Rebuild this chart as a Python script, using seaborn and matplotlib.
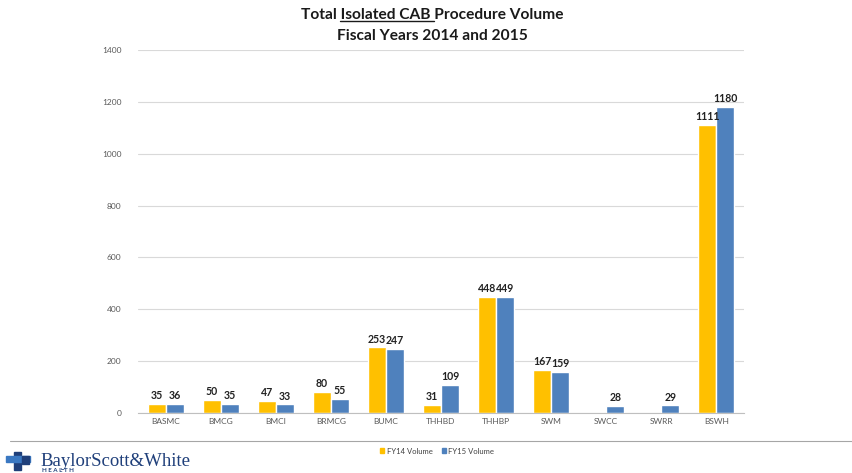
import numpy as np
import pandas as pd
import matplotlib
matplotlib.use("Agg")
import matplotlib.pyplot as plt
import matplotlib.patches as mpatches
from matplotlib.lines import Line2D
import seaborn as sns

categories = ["BASMC", "BMCG", "BMCI", "BRMCG", "BUMC", "THHBD", "THHBP", "SWM", "SWCC", "SWRR", "BSWH"]
fy14 = [35, 50, 47, 80, 253, 31, 448, 167, np.nan, np.nan, 1111]
fy15 = [36, 35, 33, 55, 247, 109, 449, 159, 28, 29, 1180]
series_names = ["FY14 Volume", "FY15 Volume"]
yticks = [0, 200, 400, 600, 800, 1000, 1200, 1400]

df = pd.DataFrame({
    "Hospital": categories * 2,
    "Series": [series_names[0]] * len(categories) + [series_names[1]] * len(categories),
    "Volume": fy14 + fy15,
})

sns.set_theme(style="white")
plt.rcParams["font.family"] = ["Lato", "DejaVu Sans"]

fig = plt.figure(figsize=(8.53, 4.73), dpi=100)
ax = fig.add_axes([0.162, 0.127, 0.710, 0.767])

palette = {series_names[0]: "#FFC000", series_names[1]: "#4F81BD"}
sns.barplot(data=df, x="Hospital", y="Volume", hue="Series", order=categories,
            hue_order=series_names, palette=palette, width=0.66, ax=ax,
            saturation=1, legend=False)

for cont in ax.containers:
    ax.bar_label(cont, fmt="%.0f", padding=2, fontsize=7.6, fontweight="bold", color="#222222")

ax.set_ylim(0, 1400)
ax.set_xlim(-0.5, len(categories) - 0.5)
ax.set_yticks(yticks)
ax.set_yticklabels([str(v) for v in yticks])
ax.yaxis.grid(True, color="#d9d9d9", linewidth=0.8)
ax.set_axisbelow(True)
ax.set_xlabel("")
ax.set_ylabel("")
for s in ["top", "right", "left"]:
    ax.spines[s].set_visible(False)
ax.spines["bottom"].set_color("#bfbfbf")
ax.spines["bottom"].set_linewidth(0.8)
ax.tick_params(axis="y", length=0, labelsize=6, labelcolor="#595959", pad=12)
ax.tick_params(axis="x", which="major", length=0, labelsize=6, labelcolor="#595959", pad=4)
ax.set_xticks(np.arange(-0.5, len(categories), 1.0), minor=True)
ax.tick_params(axis="x", which="minor", length=4, color="#bfbfbf", width=0.8)

# Title with underlined part
fig.canvas.draw()
renderer = fig.canvas.get_renderer()
tkw = dict(fontsize=11.2, fontweight="bold", color="#1a1a1a", ha="center", va="baseline")
cx = 432 / 853
y1 = 1 - 19 / 473
y2 = 1 - 40 / 473
line1 = "Total Isolated CAB Procedure Volume"
fig.text(cx, y1, line1, **tkw)
fig.text(cx, y2, "Fiscal Years 2014 and 2015", **tkw)

def width_of(s):
    t = fig.text(0, 0, s, **tkw)
    w = t.get_window_extent(renderer).width
    t.remove()
    return w

W = width_of(line1)
wx = width_of("X")
a = width_of("Total X") - wx
b = width_of("Total Isolated CAB X") - wx
x_left_px = cx * fig.bbox.width - W / 2
fig.add_artist(Line2D([(x_left_px + a) / fig.bbox.width, (x_left_px + b) / fig.bbox.width],
                      [y1 - 2.5 / 473, y1 - 2.5 / 473], color="#1a1a1a", linewidth=1.0))

# Legend
handles = [mpatches.Patch(color=palette[n], label=n) for n in series_names]
fig.legend(handles=handles, loc="center", bbox_to_anchor=(437 / 853, 1 - 451 / 473),
           ncol=2, frameon=False, fontsize=5.5, handlelength=0.6, handleheight=0.6,
           handletextpad=0.3, columnspacing=1.2, labelcolor="#404040")

# Footer rule
fig.add_artist(Line2D([10 / 853, 1.0], [1 - 441 / 473, 1 - 441 / 473], color="#a6a6a6", linewidth=0.8))

# Logo
navy = "#1F3F7A"
fig.add_artist(mpatches.Rectangle((14 / 853, 1 - 470 / 473), 7 / 853, 18 / 473, color=navy))
fig.add_artist(mpatches.Rectangle((6 / 853, 1 - 462 / 473), 24 / 853, 6 / 473, color="#3A78C2"))
fig.add_artist(mpatches.Rectangle((22 / 853, 1 - 464 / 473), 7 / 853, 8 / 473, color=navy))
fig.text(40 / 853, 1 - 461 / 473, "BaylorScott&White", fontsize=13.5, color=navy,
         family=["Liberation Serif", "DejaVu Serif"], va="center", ha="left")
fig.text(42 / 853, 1 - 473 / 473, "H E A L T H", fontsize=4.5, color=navy,
         va="bottom", ha="left", fontweight="bold")

fig.savefig("out.png", dpi=100)
